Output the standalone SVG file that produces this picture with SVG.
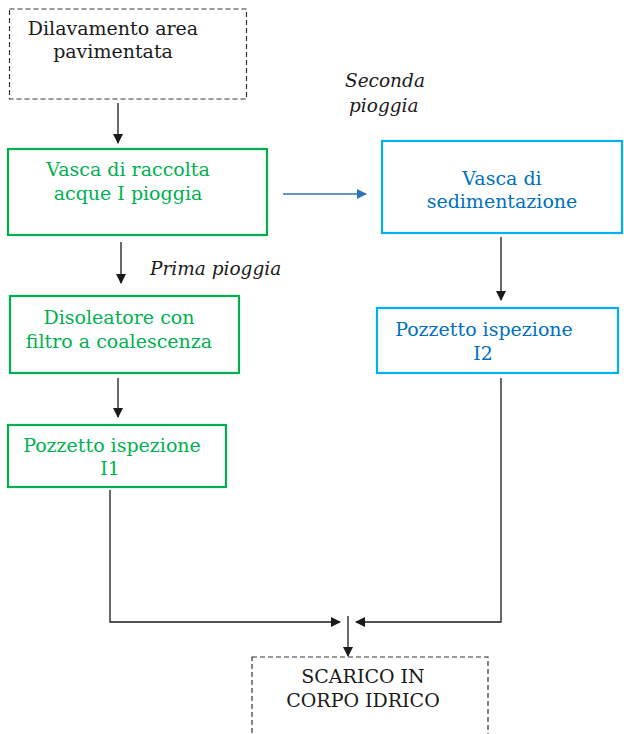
<svg xmlns="http://www.w3.org/2000/svg" width="624" height="734" viewBox="0 0 624 734">
<defs>
<style>
text{font-family:"DejaVu Serif","Liberation Serif",serif;font-size:19px;text-anchor:middle}
.k{fill:#1a1a1a}
.g{fill:#00B050}
.b{fill:#0070C0}
.it{font-style:italic;fill:#1a1a1a;text-anchor:start;font-size:18.5px}
.dash{fill:#fff;stroke:#333;stroke-width:1.2;stroke-dasharray:5 3}
.gb{fill:#fff;stroke:#00B050;stroke-width:2.2}
.bb{fill:#fff;stroke:#00B0F0;stroke-width:2.2}
.c{fill:none;stroke:#1a1a1a;stroke-width:1.3}
.cb{fill:none;stroke:#2E75B6;stroke-width:1.3}
</style>
<marker id="ah" markerWidth="10" markerHeight="10" refX="9" refY="5" orient="auto" markerUnits="userSpaceOnUse"><path d="M0,0 L10,5 L0,10 z" fill="#1a1a1a"/></marker>
<marker id="ahb" markerWidth="10" markerHeight="10" refX="9" refY="5" orient="auto" markerUnits="userSpaceOnUse"><path d="M0,0 L10,5 L0,10 z" fill="#2E75B6"/></marker>
</defs>
<rect width="624" height="734" fill="#fff"/>
<g id="connectors">
<path class="c" d="M118,103 V143" marker-end="url(#ah)"/>
<path class="cb" d="M283,194 H366" marker-end="url(#ahb)"/>
<path class="c" d="M121,242 V283" marker-end="url(#ah)"/>
<path class="c" d="M118,378 V417" marker-end="url(#ah)"/>
<path class="c" d="M501,237 V300" marker-end="url(#ah)"/>
<path class="c" d="M110,490 V622 H340" marker-end="url(#ah)"/>
<path class="c" d="M501,378 V622 H356" marker-end="url(#ah)"/>
<path class="c" d="M348,616 V656" marker-end="url(#ah)"/>
</g>
<g id="lbl-prima"><text class="it" x="150" y="275">Prima pioggia</text></g>
<g id="lbl-seconda"><text class="it" x="345" y="87">Seconda</text><text class="it" x="349" y="112">pioggia</text></g>
<g id="n-dilavamento">
<rect class="dash" x="9.5" y="9" width="237" height="90"/>
<text class="k" x="113" y="35">Dilavamento area</text>
<text class="k" x="113" y="58">pavimentata</text>
</g>
<g id="n-vasca-raccolta">
<rect class="gb" x="8" y="149" width="259" height="86"/>
<text class="g" x="128" y="176">Vasca di raccolta</text>
<text class="g" x="128" y="200">acque I pioggia</text>
</g>
<g id="n-disoleatore">
<rect class="gb" x="10" y="296" width="229" height="77"/>
<text class="g" x="119" y="324">Disoleatore con</text>
<text class="g" x="119" y="348">filtro a coalescenza</text>
</g>
<g id="n-pozzetto1">
<rect class="gb" x="8" y="425" width="218" height="62"/>
<text class="g" x="112" y="452">Pozzetto ispezione</text>
<text class="g" x="110" y="475">I1</text>
</g>
<g id="n-vasca-sed">
<rect class="bb" x="382" y="141" width="240" height="92"/>
<text class="b" x="502" y="185">Vasca di</text>
<text class="b" x="502" y="208">sedimentazione</text>
</g>
<g id="n-pozzetto2">
<rect class="bb" x="377" y="308" width="241" height="65"/>
<text class="b" x="484" y="336">Pozzetto ispezione</text>
<text class="b" x="483" y="360">I2</text>
</g>
<g id="n-scarico">
<rect class="dash" x="252" y="657" width="236" height="90"/>
<text class="k" x="363" y="683">SCARICO IN</text>
<text class="k" x="363" y="707">CORPO IDRICO</text>
</g>
</svg>
